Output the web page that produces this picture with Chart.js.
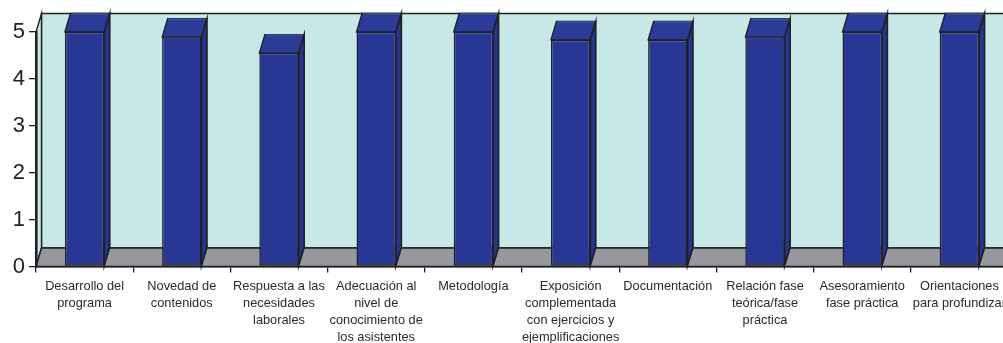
<!DOCTYPE html>
<html>
<head>
<meta charset="utf-8">
<script src="https://cdn.jsdelivr.net/npm/chart.js@4/dist/chart.umd.min.js"></script>
<style>
  html, body { margin: 0; padding: 0; background: #ffffff; overflow: hidden; }
  #wrap { width: 1020px; height: 343px; position: relative; }
</style>
</head>
<body>
<div id="wrap"><canvas id="chart" width="1020" height="343"></canvas></div>
<script>
// Course evaluation: average score per aspect (scale 0–5)
const categories = [
  ['Desarrollo del', 'programa'],
  ['Novedad de', 'contenidos'],
  ['Respuesta a las', 'necesidades', 'laborales'],
  ['Adecuación al', 'nivel de', 'conocimiento de', 'los asistentes'],
  ['Metodología'],
  ['Exposición', 'complementada', 'con ejercicios y', 'ejemplificaciones'],
  ['Documentación'],
  ['Relación fase', 'teórica/fase', 'práctica'],
  ['Asesoramiento', 'fase práctica'],
  ['Orientaciones', 'para profundizar']
];
const scores = [5.0, 4.89, 4.55, 5.0, 5.0, 4.83, 4.83, 4.89, 5.0, 5.0];
const yTicks = [0, 1, 2, 3, 4, 5];

// Oblique depth used for the pseudo-3D walls, floor and column faces
const DEPTH_X = 5.5;
const DEPTH_Y = 18.5;
const LINE = '#1f1f24';
const WALL = '#c8e7e7';
const FLOOR = '#97989c';
const BAR = '#283794';
const BAR_TOP = '#2c3b98';
const BAR_SIDE = '#26348c';

function poly(ctx, pts, fill, stroke, lw) {
  ctx.beginPath();
  ctx.moveTo(pts[0][0], pts[0][1]);
  for (let i = 1; i < pts.length; i++) ctx.lineTo(pts[i][0], pts[i][1]);
  ctx.closePath();
  if (fill) { ctx.fillStyle = fill; ctx.fill(); }
  if (stroke) { ctx.strokeStyle = stroke; ctx.lineWidth = lw || 1.2; ctx.stroke(); }
}

const box3d = {
  id: 'box3d',
  beforeDraw(chart) {
    const { ctx, chartArea: a, scales } = chart;
    const top = scales.y.getPixelForValue(yTicks[yTicks.length - 1]);
    const bot = scales.y.getPixelForValue(yTicks[0]);
    const L = a.left, R = a.right;
    ctx.save();
    ctx.lineJoin = 'miter';
    // back wall
    poly(ctx, [[L + DEPTH_X, top - DEPTH_Y], [R + DEPTH_X + 40, top - DEPTH_Y],
               [R + DEPTH_X + 40, bot - DEPTH_Y], [L + DEPTH_X, bot - DEPTH_Y]], WALL, LINE, 1.4);
    // side wall
    poly(ctx, [[L, top], [L + DEPTH_X, top - DEPTH_Y], [L + DEPTH_X, bot - DEPTH_Y], [L, bot]], WALL, LINE, 1.4);
    // floor
    poly(ctx, [[L, bot], [L + DEPTH_X, bot - DEPTH_Y], [R + DEPTH_X + 40, bot - DEPTH_Y], [R + 40, bot]], FLOOR, LINE, 1.4);
    ctx.restore();
  },
  afterDatasetsDraw(chart) {
    const { ctx } = chart;
    const meta = chart.getDatasetMeta(0);
    ctx.save();
    ctx.lineJoin = 'miter';
    meta.data.forEach(bar => {
      const p = bar.getProps(['x', 'y', 'base', 'width'], true);
      const l = p.x - p.width / 2, r = p.x + p.width / 2;
      // top face
      poly(ctx, [[l, p.y], [l + DEPTH_X, p.y - DEPTH_Y], [r + DEPTH_X, p.y - DEPTH_Y], [r, p.y]], BAR_TOP, LINE, 1.3);
      // light rim along the back edge of the top
      ctx.beginPath();
      ctx.moveTo(l + DEPTH_X + 1, p.y - DEPTH_Y + 0.5);
      ctx.lineTo(r + DEPTH_X - 1, p.y - DEPTH_Y + 0.5);
      ctx.strokeStyle = '#5a68a8';
      ctx.lineWidth = 1;
      ctx.stroke();
      // right side face
      poly(ctx, [[r, p.y], [r + DEPTH_X, p.y - DEPTH_Y], [r + DEPTH_X, p.base - DEPTH_Y], [r, p.base]], BAR_SIDE, LINE, 1.6);
    });
    ctx.restore();
  }
};

new Chart(document.getElementById('chart'), {
  type: 'bar',
  data: {
    labels: categories,
    datasets: [{
      data: scores,
      backgroundColor: BAR,
      borderColor: LINE,
      borderWidth: 1.5,
      borderSkipped: false,
      categoryPercentage: 1.0,
      barPercentage: 0.405
    }]
  },
  options: {
    responsive: false,
    animation: false,
    events: [],
    layout: { padding: { top: 32, right: 12, left: 0, bottom: 0 } },
    plugins: { legend: { display: false }, tooltip: { enabled: false } },
    scales: {
      x: {
        offset: true,
        grid: { display: true, offset: true, drawOnChartArea: false, drawTicks: true, tickLength: 6, color: LINE, lineWidth: 1.3 },
        border: { display: true, color: LINE, width: 1.6 },
        ticks: {
          autoSkip: false, maxRotation: 0, minRotation: 0, padding: 5,
          color: '#2a2a2a',
          font: { family: '"Liberation Sans", Arial, sans-serif', size: 12.8, lineHeight: 1.33 }
        },
        afterFit(scale) { scale.height = 76.5; }
      },
      y: {
        min: yTicks[0], max: yTicks[yTicks.length - 1],
        afterBuildTicks(scale) { scale.ticks = yTicks.map(v => ({ value: v })); },
        grid: { display: true, drawOnChartArea: false, drawTicks: true, tickLength: 7, color: LINE, lineWidth: 1.3 },
        border: { display: true, color: LINE, width: 2.6 },
        ticks: {
          padding: 4, color: '#222222',
          font: { family: '"Liberation Sans", Arial, sans-serif', size: 22 }
        },
        afterFit(scale) { scale.width = 36; }
      }
    }
  },
  plugins: [box3d]
});
</script>
</body>
</html>
